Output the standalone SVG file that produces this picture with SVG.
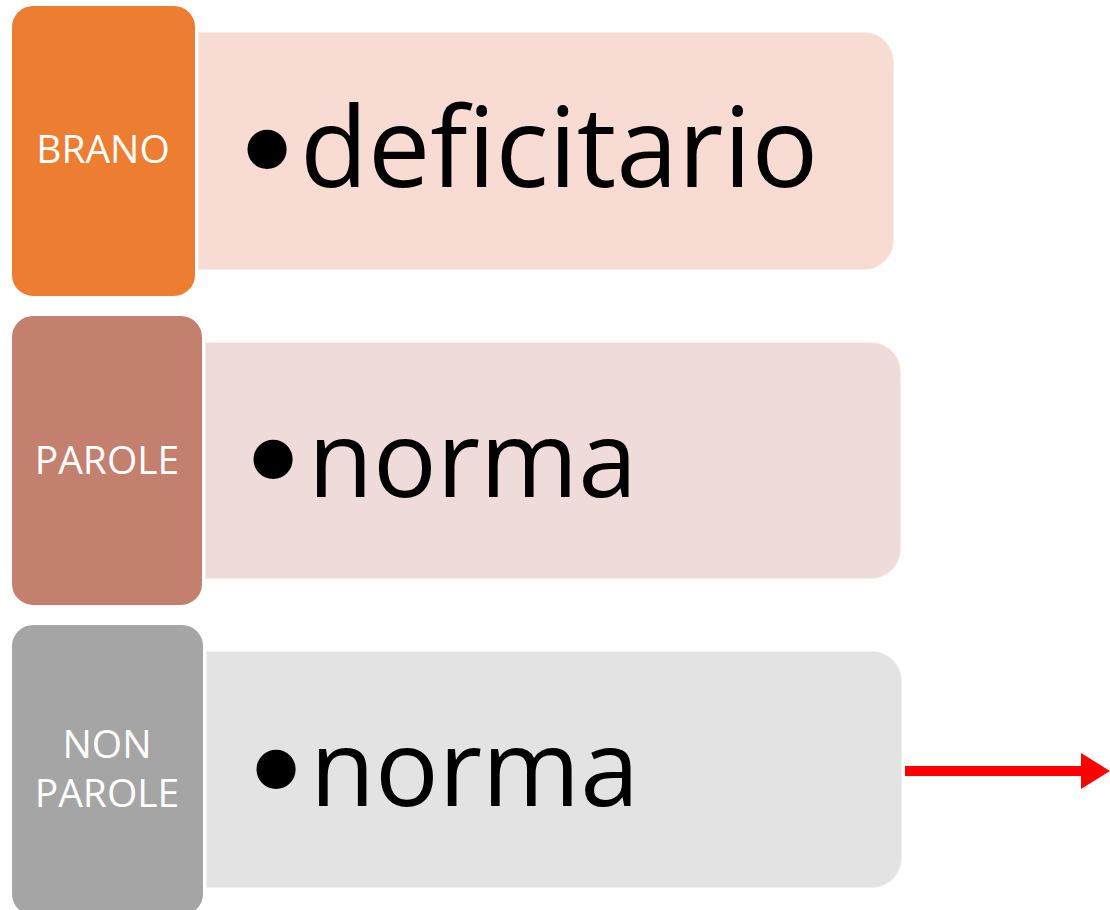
<svg xmlns="http://www.w3.org/2000/svg" width="1110" height="910" viewBox="0 0 1110 910">
<style>
.lbl{font-family:"Open Sans","Liberation Sans",sans-serif;font-size:39px;fill:#fff;text-anchor:middle}
.main{font-family:"Open Sans","Liberation Sans",sans-serif;font-size:106px;fill:#000}
.bul{font-family:"DejaVu Sans","Liberation Sans",sans-serif;font-size:135px;fill:#000;text-anchor:middle}
.hdr{stroke:#fff;stroke-width:2}
.body{stroke:#fff;stroke-opacity:0.45;stroke-width:2}
</style>
<defs>
<marker id="ah" markerUnits="userSpaceOnUse" markerWidth="30" markerHeight="36" refX="0" refY="18" orient="auto">
<path d="M0,0 L29,18 L0,36 Z" fill="#FF0000"/>
</marker>
</defs>
<rect width="1110" height="910" fill="#fff"/>
<g id="row1">
<path class="body" d="M198,32 H864 A30,30 0 0 1 894,62 V240 A30,30 0 0 1 864,270 H198 Z" fill="#F8DBD3"/>
<rect class="hdr" x="11" y="5" width="185" height="292" rx="22" fill="#ED7D31"/>
<text class="lbl" x="103" y="163">BRANO</text>
<text class="bul" x="267" y="200">•</text>
<text class="main" x="300" y="187" style="font-size:111px">deficitario</text>
</g>
<g id="row2">
<path class="body" d="M205,342 H871 A30,30 0 0 1 901,372 V549 A30,30 0 0 1 871,579 H205 Z" fill="#EFDCDA"/>
<rect class="hdr" x="11" y="315" width="192" height="291" rx="22" fill="#C4806F"/>
<text class="lbl" x="107" y="474">PAROLE</text>
<text class="bul" x="273" y="510">•</text>
<text class="main" x="308" y="497">norma</text>
</g>
<g id="row3">
<path class="body" d="M206,651 H872 A30,30 0 0 1 902,681 V858 A30,30 0 0 1 872,888 H206 Z" fill="#E3E3E3"/>
<rect class="hdr" x="11" y="624" width="193" height="292" rx="22" fill="#A5A5A5"/>
<text class="lbl" x="107" y="758">NON</text>
<text class="lbl" x="107" y="807">PAROLE</text>
<text class="bul" x="276" y="820">•</text>
<text class="main" x="310" y="806">norma</text>
</g>
<g id="connectors">
<line x1="905" y1="771" x2="1081" y2="771" stroke="#FF0000" stroke-width="10" marker-end="url(#ah)"/>
</g>
</svg>
